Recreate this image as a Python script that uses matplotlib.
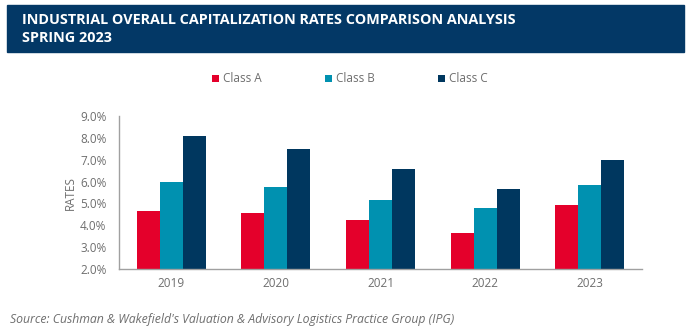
import numpy as np
import matplotlib
matplotlib.use("Agg")
from matplotlib import pyplot as plt
from matplotlib.patches import Rectangle

# Données : taux de capitalisation par classe (%)
years = ["2019", "2020", "2021", "2022", "2023"]
class_a = [4.65, 4.55, 4.23, 3.66, 4.91]
class_b = [6.00, 5.74, 5.16, 4.78, 5.83]
class_c = [8.08, 7.47, 6.59, 5.67, 6.99]
series_names = ["Class A", "Class B", "Class C"]
y_ticks = [2.0, 3.0, 4.0, 5.0, 6.0, 7.0, 8.0, 9.0]

colors = ["#E4002B", "#0091B0", "#00375F"]
gris = "#6E6E6E"

plt.rcParams['font.family'] = ['Open Sans', 'DejaVu Sans']

fig = plt.figure(figsize=(6.91, 3.33), dpi=100)

# Bandeau du titre
fig.patches.append(Rectangle((7 / 691, 1 - 52 / 333), 677 / 691, 47 / 333,
                             transform=fig.transFigure, color="#033866", zorder=0))
fig.text(22 / 691, 1 - 20 / 333, "INDUSTRIAL OVERALL CAPITALIZATION RATES COMPARISON ANALYSIS",
         color="white", fontsize=10.4, fontweight="bold", va="center")
fig.text(22 / 691, 1 - 38 / 333, "SPRING 2023",
         color="white", fontsize=10.4, fontweight="bold", va="center")

# Axes du graphique
ax = fig.add_axes([119 / 691, 1 - 269 / 333, 523 / 691, 153 / 333])
x = np.arange(len(years))
largeur = 0.22
for i, (vals, nom) in enumerate(zip([class_a, class_b, class_c], series_names)):
    ax.bar(x + (i - 1) * largeur, vals, width=largeur, color=colors[i], label=nom)

ax.set_xlim(-0.5, len(years) - 0.5)
ax.set_ylim(2.0, 9.0)
ax.set_yticks(y_ticks)
ax.set_yticklabels([f"{v:.1f}%" for v in y_ticks])
ax.set_xticks(x)
ax.set_xticklabels(years)
ax.tick_params(length=0, colors=gris, labelsize=8.5)
ax.tick_params(axis="x", pad=6)
ax.tick_params(axis="y", pad=9)
for s in ["top", "right"]:
    ax.spines[s].set_visible(False)
for s in ["left", "bottom"]:
    ax.spines[s].set_color("#A0A0A0")
    ax.spines[s].set_linewidth(1)
ax.set_ylabel("RATES", color=gris, fontsize=8.5, labelpad=2)

# Légende
fig.legend(loc="center", bbox_to_anchor=(350 / 691, 1 - 79 / 333), ncol=3,
           frameon=False, fontsize=8.5, labelcolor=gris, handlelength=0.55,
           handleheight=0.55, handletextpad=0.35, columnspacing=5.4)

# Source
fig.text(10 / 691, 1 - 320 / 333,
         "Source: Cushman & Wakefield's Valuation & Advisory Logistics Practice Group (IPG)",
         color=gris, fontsize=8.8, style="italic", va="center")

plt.savefig("out.png", dpi=100)
